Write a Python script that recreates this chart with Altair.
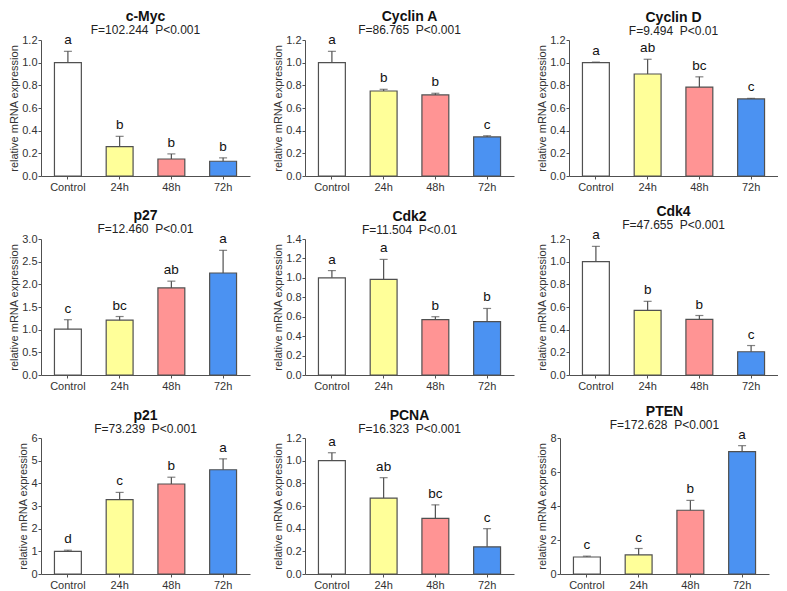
import altair as alt
import pandas as pd

groups = ["Control", "24h", "48h", "72h"]
colors = ["#FFFFFF", "#FFFF99", "#FF9494", "#4B92F2"]

genes = ["c-Myc", "Cyclin A", "Cyclin D", "p27", "Cdk2", "Cdk4", "p21", "PCNA", "PTEN"]
stats = [
    "F=102.244\u00a0\u00a0P<0.001",
    "F=86.765\u00a0\u00a0P<0.001",
    "F=9.494\u00a0\u00a0P<0.01",
    "F=12.460\u00a0\u00a0P<0.01",
    "F=11.504\u00a0\u00a0P<0.01",
    "F=47.655\u00a0\u00a0P<0.001",
    "F=73.239\u00a0\u00a0P<0.001",
    "F=16.323\u00a0\u00a0P<0.001",
    "F=172.628\u00a0\u00a0P<0.001",
]

means = [
    [1.00, 0.26, 0.15, 0.13],
    [1.00, 0.75, 0.715, 0.345],
    [1.00, 0.90, 0.785, 0.68],
    [1.01, 1.21, 1.92, 2.25],
    [1.00, 0.985, 0.57, 0.55],
    [1.00, 0.57, 0.49, 0.205],
    [1.00, 3.28, 3.97, 4.60],
    [1.00, 0.67, 0.49, 0.24],
    [1.00, 1.12, 3.75, 7.20],
]
uppers = [
    [1.10, 0.35, 0.195, 0.16],
    [1.10, 0.765, 0.73, 0.355],
    [1.005, 1.03, 0.875, 0.685],
    [1.22, 1.29, 2.07, 2.75],
    [1.075, 1.19, 0.60, 0.685],
    [1.135, 0.65, 0.525, 0.26],
    [1.05, 3.60, 4.27, 5.08],
    [1.07, 0.85, 0.61, 0.40],
    [1.05, 1.50, 4.33, 7.55],
]
letters = [
    ["a", "b", "b", "b"],
    ["a", "b", "b", "c"],
    ["a", "ab", "bc", "c"],
    ["c", "bc", "ab", "a"],
    ["a", "a", "b", "b"],
    ["a", "b", "b", "c"],
    ["d", "c", "b", "a"],
    ["a", "ab", "bc", "c"],
    ["c", "c", "b", "a"],
]
y_max = [1.2, 1.2, 1.2, 3.0, 1.4, 1.2, 6, 1.2, 8]
y_step = [0.2, 0.2, 0.2, 0.5, 0.2, 0.2, 1, 0.2, 2]
y_fmt = [".1f", ".1f", ".1f", ".1f", ".1f", ".1f", "d", ".1f", "d"]

FONT = "Liberation Sans"
W, H = 209, 136
LINE = "#505050"


def panel(i):
    df = pd.DataFrame({
        "group": groups,
        "mean": means[i],
        "upper": uppers[i],
        "letter": letters[i],
    })
    n = int(round(y_max[i] / y_step[i]))
    ticks = [round(k * y_step[i], 3) for k in range(n + 1)]
    xscale = alt.Scale(paddingInner=0.48, paddingOuter=0.26)
    xaxis = alt.Axis(labelAngle=0, ticks=True, tickSize=3, labelPadding=2)
    yscale = alt.Scale(domain=[0, y_max[i]], nice=False, zero=True)
    yaxis = alt.Axis(values=ticks, format=y_fmt[i], tickSize=3, labelPadding=1,
                     titlePadding=2, labelOverlap=False)
    ytitle = "relative mRNA expression"

    def X():
        return alt.X("group:N", sort=groups, title=None, scale=xscale, axis=xaxis)

    def Y(field):
        return alt.Y(field, title=ytitle, scale=yscale, axis=yaxis)

    base = alt.Chart(df)
    bars = base.mark_bar(stroke=LINE, strokeWidth=1.2).encode(
        x=X(), y=Y("mean:Q"),
        color=alt.Color("group:N", sort=groups,
                        scale=alt.Scale(domain=groups, range=colors), legend=None),
    )
    err = base.mark_rule(color=LINE, strokeWidth=1.2).encode(
        x=X(), y=Y("mean:Q"), y2="upper:Q")
    cap = base.mark_tick(color=LINE, thickness=1.2, size=8, orient="horizontal").encode(
        x=X(), y=Y("upper:Q"))
    txt = base.mark_text(baseline="bottom", dy=-4, fontSize=13.5, font=FONT, color="#111").encode(
        x=X(), y=Y("upper:Q"), text="letter:N")
    return alt.layer(bars, err, cap, txt).properties(
        width=W, height=H,
        title=alt.TitleParams(text=genes[i], subtitle=stats[i], anchor="middle", frame="group",
                              fontSize=14, fontWeight="bold", font=FONT, color="#111",
                              subtitleFont=FONT, subtitleFontSize=12, subtitleColor="#222",
                              subtitlePadding=1, offset=-3),
    )


rows = [alt.hconcat(*[panel(r * 3 + c) for c in range(3)], spacing=22) for r in range(3)]
chart = alt.vconcat(*rows, spacing=13).properties(
    padding={"top": 2, "left": 0, "right": 0, "bottom": 0}
).configure_view(
    stroke=None
).configure_axis(
    labelFont=FONT, titleFont=FONT, labelFontSize=11, titleFontSize=11,
    labelColor="#333", titleColor="#333", titleFontWeight="normal",
    domainColor=LINE, tickColor=LINE, grid=False,
)

chart.save("out.html", embed_options={"renderer": "svg", "actions": False})
